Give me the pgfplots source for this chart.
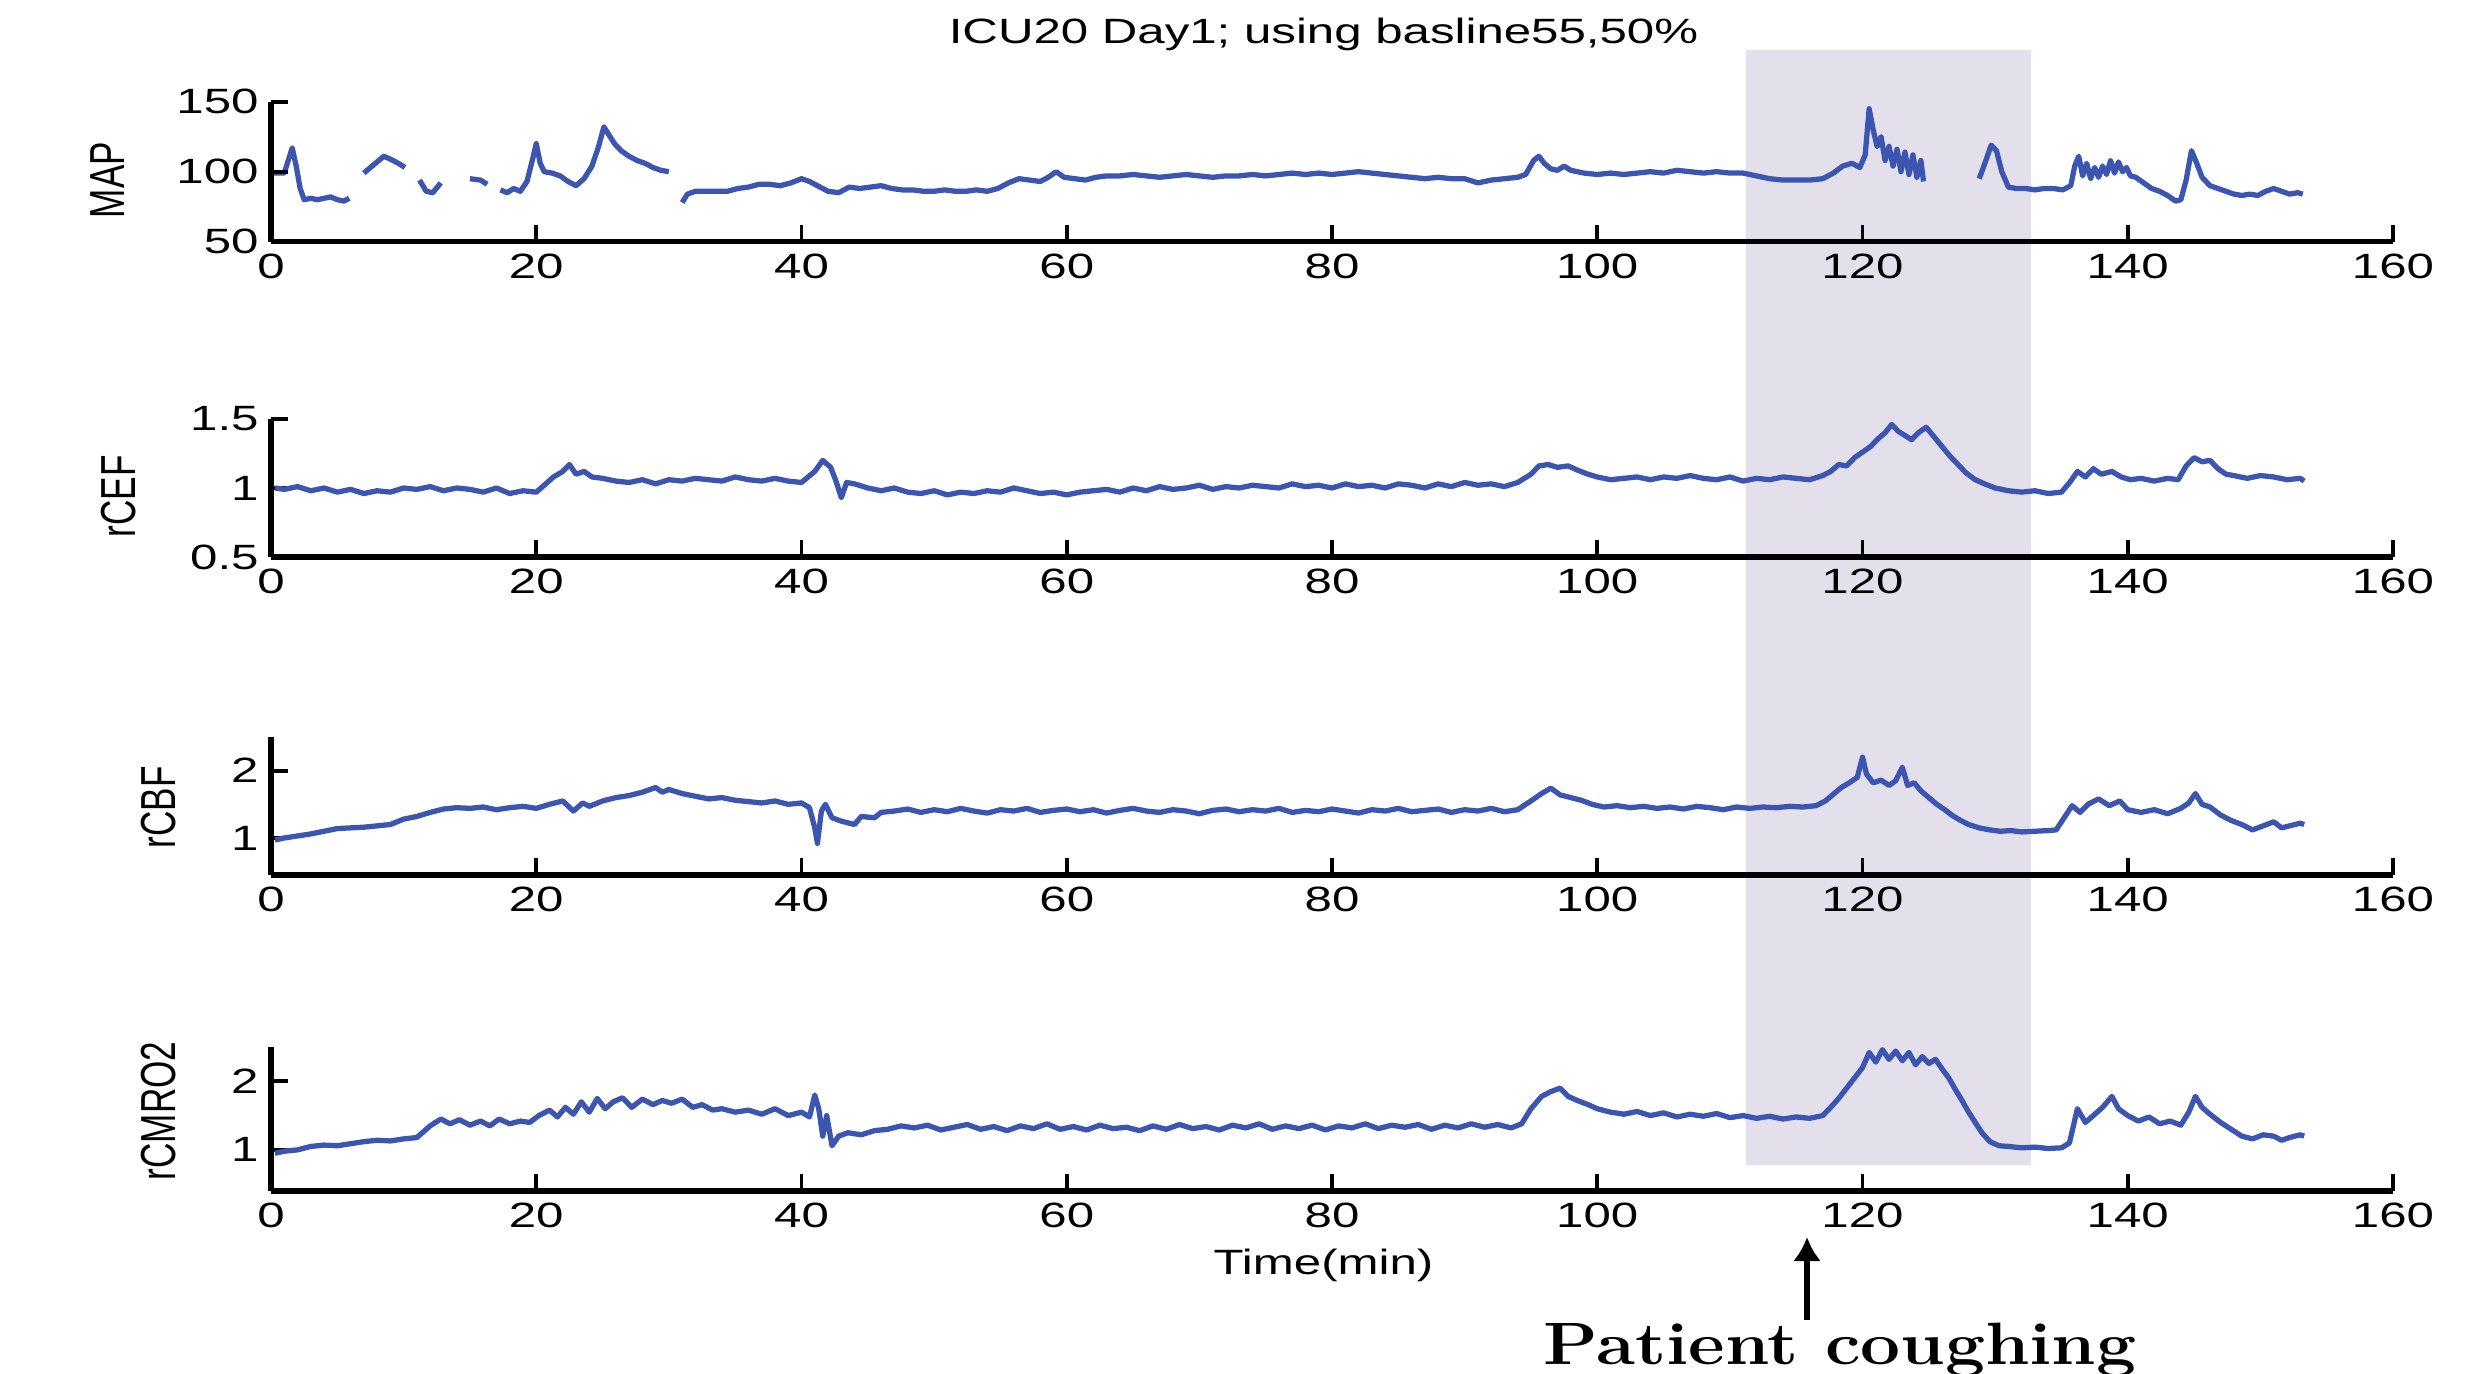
\documentclass[border=0pt]{standalone}
\usepackage{fontspec}
\usepackage{graphicx}
\usepackage{pgfplots}
\pgfplotsset{compat=1.18}
\usetikzlibrary{arrows.meta}
\newfontfamily\arial{Liberation Sans}
\definecolor{lineblue}{HTML}{3C55B0}
\definecolor{shadecol}{HTML}{E3E0EC}

\pgfplotsset{
  panel/.style={
    scale only axis, width=21.22cm,
    xmin=0, xmax=160, xtick={0,20,...,160},
    axis x line*=bottom, axis y line*=left,
    axis line style={line width=1.5pt, black},
    tick style={line width=1.1pt, black},
    major tick length=0.17cm,
    tick align=inside,
    /pgf/number format/assume math mode=true,
    ticklabel style={font=\arial\fontsize{10}{12}\selectfont, text=black},
    xticklabel={\scalebox{1.4}[1]{\pgfmathprintnumber{\tick}}},
    yticklabel={\scalebox{1.4}[1]{\pgfmathprintnumber{\tick}}},
    label style={font=\arial\fontsize{10}{12}\selectfont},
  },
  sig/.style={lineblue, line width=1.5pt, line join=round},
}

\begin{document}
\begin{tikzpicture}
\useasboundingbox (0,0) rectangle (24.72,13.73);

% ---- MAP ----
\begin{axis}[panel, at={(2.71cm,11.313cm)}, anchor=south west,
  height=1.40cm, ymin=50, ymax=150, ytick={50,100,150},
  clip=false, axis on top, unbounded coords=jump,
  ylabel={\scalebox{1}[1.4]{MAP}},
  ylabel style={at={(axis description cs:-0.077,0.44)}, anchor=center},
  title={\scalebox{1.4}[1]{ICU20 Day1; using basline55,50\%}},
  title style={at={(axis description cs:0.496,1.262)}, anchor=base,
    font=\arial\fontsize{10}{12}\selectfont},
]
  % shaded interval (spans all panels)
  \addplot[fill=shadecol, draw=none, forget plot] coordinates
    {(111.2,186.9)(132.7,186.9)(132.7,-609.5)(111.2,-609.5)};
  \addplot[sig] coordinates {
    (0.2,99)(1.0,99)(1.3,108)(1.6,117)(1.9,104)(2.2,88)(2.5,80)(3.0,81)(3.5,80)
    (4.0,81)(4.5,82)(5.0,80)(5.5,79)(5.9,81)(6.0,nan)
    (7.0,99)(7.5,103)(8.0,107)(8.5,111)(9.0,109)(9.6,106)(10.1,103)(10.2,nan)
    (11.2,94)(11.7,86)(12.2,85)(12.8,92)(13.0,nan)
    (15.0,95)(15.8,94)(16.3,91)(16.4,nan)
    (17.3,87)(17.8,85)(18.3,88)(18.8,86)(19.3,93)(19.7,108)(20.0,120)(20.3,106)
    (20.6,100)(21.2,99)(21.8,97)(22.4,93)(23.0,90)(23.6,95)(24.2,104)(24.7,118)
    (25.1,132)(25.5,126)(25.9,120)(26.4,115)(27.0,111)(27.6,108)(28.2,106)
    (28.8,103)(29.4,101)(30.0,100)(30.4,nan)
    (31.0,78)(31.4,84)(32.0,86)(32.8,86)(33.6,86)(34.4,86)(35.2,88)(36.0,89)
    (36.8,91)(37.6,91)(38.4,90)(39.2,92)(40.0,95)(40.6,93)(41.2,90)(42.0,86)
    (42.8,85)(43.6,89)(44.4,88)(45.2,89)(46.0,90)(46.8,88)(47.6,87)(48.4,87)
    (49.2,86)(50.0,86)(50.8,87)(51.6,86)(52.4,86)(53.2,87)(54.0,86)(54.8,88)
    (55.6,92)(56.4,95)(57.2,94)(58.0,93)(58.6,96)(59.2,100)(59.8,96)(60.6,95)
    (61.4,94)(62.2,96)(63,97)(64,97)(65,98)(66,97)(67,96)(68,97)(69,98)(70,97)
    (71,96)(72,97)(73,97)(74,98)(75,97)(76,98)(77,99)(78,98)(79,99)(80,98)
    (81,99)(82,100)(83,99)(84,98)(85,97)(86,96)(87,95)(88,96)(89,95)(90,95)
    (91,92)(92,94)(93,95)(94,96)(94.6,98)(95.2,108)(95.6,111)(96.0,106)
    (96.5,102)(97.0,101)(97.5,104)(98.0,101)(99,99)(100,98)(101,99)(102,98)
    (103,99)(104,100)(105,99)(106,101)(107,100)(108,99)(109,100)(110,99)
    (111,99)(112,97)(113,95)(114,94)(115,94)(116,94)(117,95)(117.8,99)
    (118.5,104)(119.2,106)(119.8,103)(120.2,112)(120.5,145)(120.8,130)
    (121.1,118)(121.4,125)(121.7,108)(122.0,118)(122.3,104)(122.6,116)
    (122.9,100)(123.2,114)(123.5,98)(123.8,112)(124.1,96)(124.4,108)(124.6,93)
    (124.7,nan)
    (128.8,95)(129.3,108)(129.7,119)(130.1,115)(130.5,100)(131.0,89)(131.6,88)
    (132.3,88)(133.0,87)(133.7,88)(134.4,88)(135.1,87)(135.7,90)(136.0,104)
    (136.3,111)(136.6,97)(136.9,106)(137.2,95)(137.5,103)(137.8,96)(138.1,104)
    (138.4,98)(138.7,108)(139.0,99)(139.3,107)(139.6,100)(139.9,103)(140.2,97)
    (140.6,96)(141.2,92)(141.8,88)(142.4,86)(143.0,83)(143.6,79)(144.0,80)
    (144.4,94)(144.8,115)(145.2,106)(145.6,96)(146.2,90)(146.8,88)(147.4,86)
    (148.0,84)(148.6,83)(149.2,84)(149.8,83)(150.4,86)(151.0,88)(151.6,86)
    (152.2,84)(152.8,85)(153.2,84)
  };
\end{axis}

% ---- rCEF ----
\begin{axis}[panel, at={(2.71cm,8.16cm)}, anchor=south west,
  height=1.38cm, ymin=0.5, ymax=1.5, ytick={0.5,1,1.5},
  ylabel={\scalebox{1}[1.4]{rCEF}},
  ylabel style={at={(axis description cs:-0.072,0.44)}, anchor=center},
]
  \addplot[sig] coordinates {
    (0.3,1.0)(1,0.99)(2,1.01)(3,0.98)(4,1.0)(5,0.97)(6,0.99)(7,0.96)(8,0.98)
    (9,0.97)(10,1.0)(11,0.99)(12,1.01)(13,0.98)(14,1.0)(15,0.99)(16,0.97)
    (17,1.0)(18,0.96)(19,0.98)(20,0.97)(20.6,1.02)(21.3,1.08)(22.0,1.12)
    (22.5,1.17)(23.0,1.10)(23.6,1.12)(24.2,1.08)(25,1.07)(26,1.05)(27,1.04)
    (28,1.06)(29,1.03)(30,1.06)(31,1.05)(32,1.07)(33,1.06)(34,1.05)(35,1.08)
    (36,1.06)(37,1.05)(38,1.07)(39,1.05)(40,1.04)(41.0,1.12)(41.6,1.2)
    (42.2,1.15)(42.6,1.05)(43.0,0.93)(43.4,1.04)(44,1.03)(45,1.0)(46,0.98)
    (47,1.0)(48,0.97)(49,0.96)(50,0.98)(51,0.95)(52,0.97)(53,0.96)(54,0.98)
    (55,0.97)(56,1.0)(57,0.98)(58,0.96)(59,0.97)(60,0.95)(61,0.97)(62,0.98)
    (63,0.99)(64,0.97)(65,1.0)(66,0.98)(67,1.01)(68,0.99)(69,1.0)(70,1.02)
    (71,0.99)(72,1.01)(73,1.0)(74,1.02)(75,1.01)(76,1.0)(77,1.03)(78,1.01)
    (79,1.02)(80,1.0)(81,1.03)(82,1.01)(83,1.02)(84,1.0)(85,1.03)(86,1.02)
    (87,1.0)(88,1.03)(89,1.01)(90,1.04)(91,1.02)(92,1.03)(93,1.01)(94,1.04)
    (95.0,1.10)(95.6,1.16)(96.3,1.17)(97.0,1.15)(97.8,1.16)(98.5,1.13)
    (99.3,1.10)(100,1.08)(101,1.06)(102,1.07)(103,1.08)(104,1.06)(105,1.08)
    (106,1.07)(107,1.09)(108,1.07)(109,1.06)(110,1.08)(111,1.05)(112,1.07)
    (113,1.06)(114,1.08)(115,1.07)(116,1.06)(117,1.09)(117.6,1.12)(118.2,1.17)
    (118.8,1.16)(119.4,1.22)(120.0,1.26)(120.6,1.30)(121.2,1.36)(121.7,1.40)
    (122.2,1.46)(122.7,1.41)(123.2,1.38)(123.7,1.35)(124.2,1.40)(124.8,1.44)
    (125.4,1.37)(126.0,1.30)(126.6,1.23)(127.2,1.17)(127.8,1.11)(128.5,1.06)
    (129.2,1.03)(130,1.0)(131,0.98)(132,0.97)(133,0.98)(134,0.96)(135,0.97)
    (135.7,1.05)(136.2,1.12)(136.8,1.08)(137.4,1.14)(138.0,1.10)(138.8,1.12)
    (139.5,1.08)(140.2,1.06)(141,1.07)(142,1.05)(143,1.07)(143.8,1.06)
    (144.4,1.16)(145.0,1.22)(145.6,1.19)(146.2,1.20)(146.8,1.14)(147.4,1.10)
    (148,1.09)(149,1.07)(150,1.09)(151,1.08)(152,1.06)(153,1.07)(153.3,1.05)
  };
\end{axis}

% ---- rCBF ----
\begin{axis}[panel, at={(2.71cm,4.98cm)}, anchor=south west,
  height=1.38cm, ymin=0.45, ymax=2.5, ytick={1,2},
  ylabel={\scalebox{1}[1.4]{rCBF}},
  ylabel style={at={(axis description cs:-0.053,0.49)}, anchor=center},
]
  \addplot[sig] coordinates {
    (0.3,0.97)(1,1.0)(2,1.03)(3,1.06)(4,1.1)(5,1.14)(6,1.15)(7,1.16)(8,1.18)
    (9,1.2)(10,1.28)(11,1.32)(12,1.38)(13,1.43)(14,1.45)(15,1.44)(16,1.46)
    (17,1.42)(18,1.45)(19,1.47)(20,1.44)(21,1.5)(22,1.55)(22.8,1.4)(23.5,1.52)
    (24,1.47)(25,1.55)(26,1.6)(27,1.63)(28,1.68)(29,1.75)(29.5,1.68)(30,1.72)
    (31,1.66)(32,1.62)(33,1.58)(34,1.6)(35,1.56)(36,1.54)(37,1.52)(38,1.55)
    (39,1.5)(40,1.52)(40.6,1.45)(41.0,1.15)(41.2,0.92)(41.5,1.4)(41.8,1.5)
    (42.3,1.3)(43,1.25)(44,1.2)(44.5,1.32)(45.5,1.3)(46,1.38)(47,1.4)(48,1.43)
    (49,1.38)(50,1.42)(51,1.39)(52,1.44)(53,1.40)(54,1.37)(55,1.42)(56,1.40)
    (57,1.44)(58,1.38)(59,1.41)(60,1.43)(61,1.39)(62,1.42)(63,1.37)(64,1.41)
    (65,1.44)(66,1.40)(67,1.38)(68,1.42)(69,1.40)(70,1.36)(71,1.41)(72,1.43)
    (73,1.39)(74,1.42)(75,1.40)(76,1.44)(77,1.38)(78,1.41)(79,1.39)(80,1.43)
    (81,1.40)(82,1.37)(83,1.42)(84,1.40)(85,1.44)(86,1.39)(87,1.41)(88,1.43)
    (89,1.38)(90,1.42)(91,1.40)(92,1.44)(93,1.39)(94,1.42)(95,1.55)(95.8,1.66)
    (96.5,1.74)(97.2,1.64)(98,1.6)(98.8,1.56)(99.6,1.5)(100.5,1.46)
    (101.5,1.48)(102.5,1.45)(103.5,1.47)(104.5,1.44)(105.5,1.46)(106.5,1.43)
    (107.5,1.47)(108.5,1.45)(109.5,1.42)(110.5,1.46)(111.5,1.44)(112.5,1.46)
    (113.5,1.45)(114.5,1.47)(115.5,1.46)(116.5,1.48)(117.2,1.55)(117.8,1.65)
    (118.4,1.75)(119.0,1.82)(119.6,1.9)(120.0,2.2)(120.3,1.95)(120.8,1.82)
    (121.4,1.86)(122.0,1.78)(122.5,1.85)(123.0,2.05)(123.4,1.78)(123.9,1.82)
    (124.4,1.7)(125.0,1.6)(125.6,1.5)(126.2,1.42)(126.8,1.33)(127.4,1.26)
    (128.0,1.2)(128.8,1.15)(129.6,1.12)(130.4,1.1)(131.2,1.11)(132,1.09)
    (133,1.1)(134,1.11)(134.6,1.12)(135.2,1.3)(135.8,1.48)(136.4,1.38)
    (137,1.5)(137.8,1.58)(138.6,1.48)(139.4,1.55)(140,1.42)(141,1.38)(142,1.42)
    (143,1.36)(144,1.44)(144.6,1.52)(145.1,1.66)(145.6,1.5)(146.2,1.46)
    (147,1.34)(147.8,1.26)(148.6,1.2)(149.4,1.12)(150.2,1.18)(151,1.24)
    (151.6,1.15)(152.2,1.18)(153.0,1.22)(153.3,1.2)
  };
\end{axis}

% ---- rCMRO2 ----
\begin{axis}[panel, at={(2.71cm,1.82cm)}, anchor=south west,
  height=1.44cm, ymin=0.4, ymax=2.5, ytick={1,2},
  ylabel={\scalebox{1}[1.4]{rCMRO2}},
  ylabel style={at={(axis description cs:-0.053,0.556)}, anchor=center},
  xlabel={\scalebox{1.4}[1]{Time(min)}},
  xlabel style={at={(axis description cs:0.496,-0.583)}, anchor=base},
]
  \addplot[sig] coordinates {
    (0.3,0.95)(1,0.98)(2,1.0)(3,1.05)(4,1.07)(5,1.06)(6,1.09)(7,1.12)(8,1.14)
    (9,1.13)(10,1.16)(11,1.18)(12,1.35)(12.8,1.45)(13.5,1.38)(14.2,1.44)
    (15,1.36)(15.8,1.42)(16.5,1.35)(17.2,1.45)(18,1.38)(18.8,1.42)(19.5,1.40)
    (20.2,1.5)(21,1.58)(21.6,1.48)(22.2,1.62)(22.8,1.52)(23.4,1.7)(24,1.55)
    (24.6,1.75)(25.2,1.6)(25.8,1.7)(26.5,1.76)(27.2,1.62)(28,1.74)(28.8,1.66)
    (29.5,1.72)(30.2,1.68)(31,1.74)(31.8,1.62)(32.5,1.66)(33.3,1.58)(34,1.6)
    (35,1.55)(36,1.58)(37,1.52)(38,1.6)(39,1.5)(40,1.55)(40.6,1.48)(41.0,1.8)
    (41.3,1.6)(41.6,1.2)(41.9,1.5)(42.3,1.06)(42.8,1.2)(43.5,1.25)(44.5,1.22)
    (45.5,1.28)(46.5,1.3)(47.5,1.35)(48.5,1.32)(49.5,1.36)(50.5,1.29)
    (51.5,1.33)(52.5,1.37)(53.5,1.3)(54.5,1.34)(55.5,1.28)(56.5,1.35)
    (57.5,1.31)(58.5,1.38)(59.5,1.3)(60.5,1.34)(61.5,1.29)(62.5,1.36)
    (63.5,1.31)(64.5,1.33)(65.5,1.28)(66.5,1.35)(67.5,1.3)(68.5,1.37)
    (69.5,1.31)(70.5,1.34)(71.5,1.29)(72.5,1.36)(73.5,1.32)(74.5,1.38)
    (75.5,1.3)(76.5,1.35)(77.5,1.31)(78.5,1.36)(79.5,1.29)(80.5,1.35)
    (81.5,1.32)(82.5,1.38)(83.5,1.31)(84.5,1.36)(85.5,1.33)(86.5,1.37)
    (87.5,1.3)(88.5,1.36)(89.5,1.32)(90.5,1.38)(91.5,1.33)(92.5,1.37)
    (93.5,1.32)(94.3,1.38)(95,1.6)(95.8,1.78)(96.5,1.85)(97.2,1.9)(97.8,1.78)
    (98.5,1.72)(99.3,1.66)(100,1.6)(101,1.55)(102,1.52)(103,1.56)(104,1.5)
    (105,1.54)(106,1.48)(107,1.52)(108,1.49)(109,1.53)(110,1.47)(111,1.5)
    (112,1.46)(113,1.49)(114,1.45)(115,1.48)(116,1.46)(117,1.5)(117.6,1.62)
    (118.2,1.75)(118.8,1.9)(119.4,2.05)(120.0,2.2)(120.5,2.42)(121.0,2.28)
    (121.5,2.46)(122.0,2.32)(122.5,2.44)(123.0,2.3)(123.5,2.42)(124.0,2.24)
    (124.5,2.36)(125.0,2.26)(125.5,2.32)(126.0,2.18)(126.5,2.05)(127.0,1.88)
    (127.5,1.72)(128.0,1.55)(128.5,1.4)(129.0,1.25)(129.6,1.12)(130.3,1.06)
    (131,1.05)(132,1.03)(133,1.04)(134,1.02)(135,1.03)(135.6,1.1)(136.2,1.6)
    (136.8,1.4)(137.4,1.5)(138.1,1.62)(138.8,1.78)(139.3,1.6)(140,1.5)
    (140.8,1.42)(141.6,1.48)(142.4,1.38)(143.2,1.42)(144,1.36)(144.6,1.55)
    (145.1,1.78)(145.6,1.62)(146.2,1.52)(147,1.4)(147.8,1.3)(148.6,1.2)
    (149.4,1.16)(150.2,1.22)(151,1.2)(151.6,1.14)(152.2,1.18)(153,1.22)
    (153.3,1.2)
  };
\end{axis}

% annotation
\draw[line width=1.6pt, -{Latex[length=2.4mm,width=2.8mm]}] (18.07,0.53) -- (18.07,1.36);
\node[anchor=base, inner sep=0pt, font=\fontsize{17}{19}\selectfont\bfseries]
  at (18.40,0.09) {\scalebox{1.19}[1]{Patient coughing}};
\end{tikzpicture}
\end{document}
